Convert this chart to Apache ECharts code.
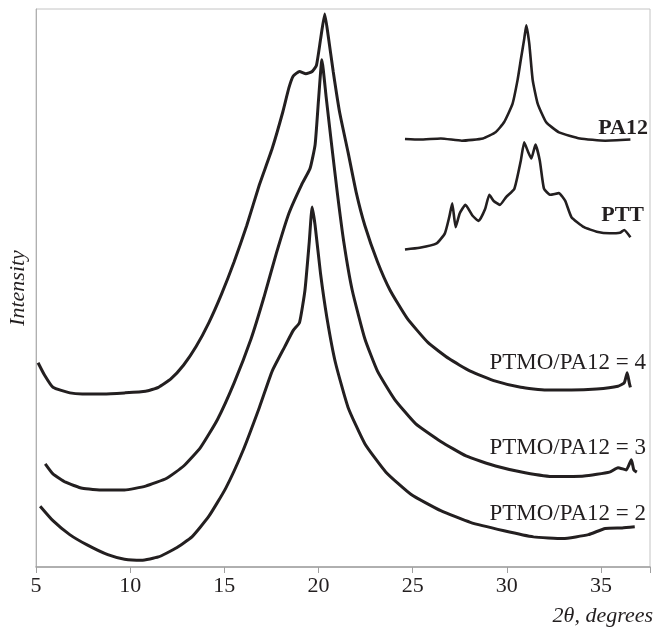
<!DOCTYPE html>
<html>
<head>
<meta charset="utf-8">
<script src="https://cdn.jsdelivr.net/npm/echarts@6/dist/echarts.min.js"></script>
<style>
  html, body { margin: 0; padding: 0; background: #fff; }
  #chart { width: 654px; height: 633px; }
</style>
</head>
<body>
<div id="chart"></div>
<script>
// 2theta (deg), intensity (arb. units, shifted)
const ratio4 = [
  [5.11,36.6],[5.45,34.4],[5.9,32.2],[6.8,31.2],[7.46,31.0],[8.58,31.0],[9.7,31.2],
  [10.82,31.5],[11.5,32.2],[12.16,33.7],[12.84,36.2],[13.5,39.5],[14.18,43.8],[14.85,48.9],
  [15.52,54.7],[16.19,61.2],[16.86,68.5],[17.54,75.0],[18.1,81.5],[18.43,85.9],[18.66,88.0],
  [18.99,88.8],[19.33,88.4],[19.66,88.8],[19.89,89.9],[20.11,94.6],[20.33,99.1],[20.51,95.3],
  [20.78,88.8],[21.12,81.5],[21.57,74.3],[22.01,67.0],[22.46,61.2],[23.13,54.7],[23.8,49.6],
  [24.7,44.6],[25.82,40.2],[26.94,37.3],[28.06,35.1],[29.4,33.3],[30.74,32.2],[32.09,31.7],
  [33.43,31.7],[34.77,31.9],[35.9,32.4],[36.23,33.0],[36.39,34.8],[36.5,33.0],[36.56,32.2]
];
const ratio3 = [
  [5.49,18.5],[5.9,16.7],[6.57,15.2],[7.46,14.1],[8.58,13.8],[9.7,13.8],[10.82,14.5],
  [11.94,15.9],[12.84,18.1],[13.73,21.4],[14.63,26.4],[15.52,33.0],[16.42,40.9],[17.09,48.2],
  [17.76,56.2],[18.43,63.4],[19.1,68.5],[19.55,71.4],[19.82,75.7],[20.0,83.7],[20.18,90.9],
  [20.4,84.4],[20.67,76.4],[21.0,67.0],[21.34,58.3],[21.79,49.6],[22.46,40.9],[23.13,35.1],
  [24.03,30.1],[25.15,25.7],[26.49,22.5],[27.83,19.9],[29.4,18.1],[30.97,16.9],[32.54,16.2],
  [34.1,16.3],[35.45,17.0],[35.9,17.8],[36.34,17.4],[36.61,19.2],[36.74,17.4],[36.9,17.0]
];
const ratio2 = [
  [5.22,10.9],[5.9,8.3],[6.79,5.8],[7.69,4.0],[8.81,2.2],[9.7,1.4],[10.6,1.2],[11.5,1.8],
  [12.39,3.3],[13.28,5.4],[14.18,9.1],[15.07,14.1],[15.97,20.7],[16.86,28.6],[17.54,35.1],
  [18.21,39.5],[18.66,42.4],[18.99,43.8],[19.28,49.6],[19.51,58.3],[19.66,64.5],[19.82,61.2],
  [20.11,52.5],[20.45,44.6],[20.9,36.6],[21.57,28.6],[22.46,22.1],[23.58,17.0],[24.92,13.0],
  [26.49,10.1],[28.06,8.0],[29.85,6.5],[31.42,5.4],[32.98,5.1],[34.33,5.8],[35.22,6.9],
  [36.12,7.0],[36.79,7.2]
];
const pa12 = [
  [24.59,76.7],[25.37,76.6],[26.49,76.8],[27.61,76.4],[28.73,76.8],[29.4,77.9],[29.85,79.7],
  [30.3,83.0],[30.57,87.3],[30.74,90.9],[30.92,94.6],[31.03,97.1],[31.19,93.8],[31.37,87.3],
  [31.64,83.0],[32.09,79.7],[32.77,77.9],[33.88,76.8],[35.22,76.4],[36.56,76.6]
];
const ptt = [
  [24.59,56.9],[25.37,57.2],[26.27,58.0],[26.71,59.8],[26.94,62.7],[27.1,65.2],[27.28,60.9],
  [27.5,63.4],[27.8,64.9],[28.17,63.0],[28.5,62.0],[28.84,64.1],[29.07,66.7],[29.3,65.6],
  [29.63,64.9],[29.96,66.3],[30.4,67.8],[30.74,72.8],[30.92,76.1],[31.14,74.3],[31.3,73.2],
  [31.52,75.7],[31.75,72.8],[31.97,67.8],[32.31,66.7],[32.76,67.0],[33.1,65.6],[33.43,62.7],
  [34.1,60.9],[34.77,60.1],[35.45,59.8],[36.0,59.9],[36.23,60.4],[36.56,59.1]
];
const seriesNames = ['PTMO/PA12 = 4', 'PTMO/PA12 = 3', 'PTMO/PA12 = 2', 'PA12', 'PTT'];
const seriesData = [ratio4, ratio3, ratio2, pa12, ptt];

const serif = '"Liberation Serif", "DejaVu Serif", serif';
const ink = '#231f20';

let myChart = echarts.init(document.getElementById('chart'));

function label(txt, x, y, font) {
  return {
    type: 'text', x: x, y: y,
    style: { text: txt, font: font || ('23px ' + serif), fill: ink, align: 'right', verticalAlign: 'middle' }
  };
}

let option = {
  animation: false,
  grid: {
    left: 36, top: 9, right: 4, bottom: 66,
    show: true, borderColor: '#c4c4c4', borderWidth: 1, backgroundColor: '#fff'
  },
  xAxis: {
    type: 'value', min: 5, max: 37.6, interval: 5,
    axisLine: { show: true, lineStyle: { color: '#a0a0a0', width: 1.5 } },
    axisTick: { show: true, length: 6, lineStyle: { color: '#a0a0a0' } },
    axisLabel: {
      margin: 8, color: ink, fontFamily: serif, fontSize: 22,
      formatter: v => (v % 5 === 0 ? String(v) : '')
    },
    splitLine: { show: false }
  },
  yAxis: {
    type: 'value', min: 0, max: 100,
    axisLine: { show: true, onZero: false, lineStyle: { color: '#b0b0b0' } },
    axisTick: { show: false },
    axisLabel: { show: false },
    splitLine: { show: false }
  },
  series: seriesData.map((d, i) => ({
    name: seriesNames[i],
    type: 'line',
    data: d,
    symbol: 'none',
    smooth: 0.15,
    lineStyle: { color: ink, width: i < 3 ? 3 : 2.6 }
  })),
  graphic: [
    label('PA12', 648, 128, 'bold 22px ' + serif),
    label('PTT', 644, 215, 'bold 22px ' + serif),
    label('PTMO/PA12 = 4', 646, 363),
    label('PTMO/PA12 = 3', 646, 448),
    label('PTMO/PA12 = 2', 646, 514),
    label('2θ, degrees', 653, 616, 'italic 22px ' + serif),
    {
      type: 'text', x: 18, y: 288, rotation: Math.PI / 2,
      style: { text: 'Intensity', font: 'italic 22px ' + serif, fill: ink, align: 'center', verticalAlign: 'middle' }
    }
  ]
};

myChart.setOption(option);
</script>
</body>
</html>
